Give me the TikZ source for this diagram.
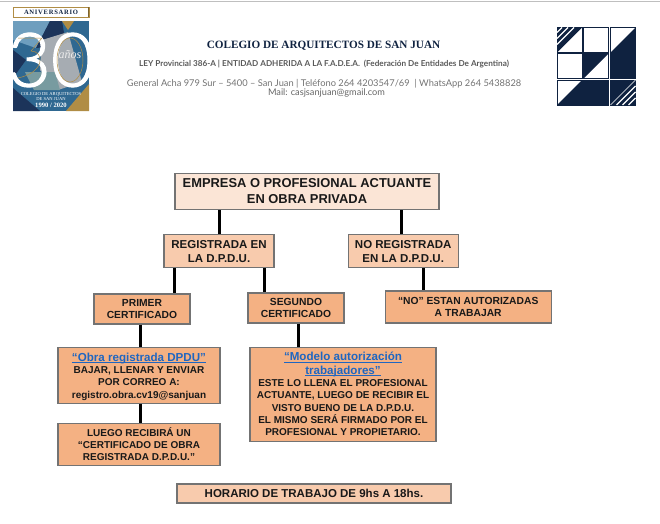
\documentclass[tikz,border=0pt]{standalone}
\usepackage{fontspec}
\setmainfont{Liberation Sans}
\newfontfamily\headserif{Liberation Serif}
\newfontfamily\headsans{Lato}
\newfontfamily\headlight[FakeBold=1.5]{Lato Light}
\usetikzlibrary{positioning}
\definecolor{navy}{HTML}{0F2240}
\definecolor{peachA}{HTML}{FBE5D6}
\definecolor{peachB}{HTML}{F8CBAD}
\definecolor{peachC}{HTML}{F4B183}
\definecolor{linkblue}{HTML}{1F66C1}
\definecolor{gold}{HTML}{B08D45}
\definecolor{logoblue}{HTML}{2F6891}
\definecolor{logosky}{HTML}{6E9EBE}
\definecolor{logodark}{HTML}{1C345A}
\definecolor{logogray}{HTML}{A6ACB2}
\definecolor{logoteal}{HTML}{789BA0}
\newsavebox{\linkbox}
\newcommand{\boxfont}[2]{\fontsize{#1}{#2}\selectfont\bfseries}
\newcommand{\linktext}[1]{{\fontsize{11.6}{13}\selectfont\color{linkblue}\sbox{\linkbox}{#1}\rlap{\rule[-1.6pt]{\wd\linkbox}{.7pt}}\usebox{\linkbox}}}
\begin{document}
\begin{tikzpicture}[
  x=1pt, y=-1pt,
  node distance=24pt and 20pt,
  box/.style={draw=black!55, line width=1.2pt, align=center, inner sep=0pt, text=black!90},
  boxa/.style={box, fill=peachA, minimum width=264pt, minimum height=36pt, font=\boxfont{12.9}{16}},
  boxb/.style={box, fill=peachB, minimum width=110pt, minimum height=33pt, font=\boxfont{11.5}{14.2}},
  boxc/.style={box, fill=peachC, minimum width=96pt, minimum height=30pt, font=\boxfont{10.3}{12.2}},
  boxd/.style={box, fill=peachC, minimum width=162pt, font=\boxfont{10}{12.3}},
  link/.style={black, line width=3pt},
  tile/.style={draw=navy, line width=.6pt, fill=white},
  stripe/.style={draw=white, line width=1.2pt},
  logotext/.style={inner sep=0pt, text=white, align=center}
]
\useasboundingbox (0,0) rectangle (660,523);
\draw[gray!50, line width=1pt] (0,1) -- (660,1);

\draw[gold, line width=.7pt] (13,7) rectangle (89,17);
\draw[gold!70!black, line width=1.4pt] (88.5,7) -- (88.5,17);
\fill[logoblue] (13,21) rectangle (89,111);
\fill[logosky] (13,21) -- (50,21) -- (36,48) -- (13,40) -- cycle;
\fill[logodark] (50,21) -- (62,21) -- (66,45) -- (36,48) -- cycle;
\fill[logogray] (42,40) -- (68,32) -- (82,82) -- (58,90) -- (40,70) -- cycle;
\fill[gold] (62,21) -- (74,21) -- (68,30) -- cycle;
\fill[logodark] (13,50) -- (26,60) -- (13,78) -- cycle;
\fill[logoteal] (25,72) -- (55,72) -- (60,90) -- (34,90) -- cycle;
\fill[gold] (66,111) -- (89,84) -- (89,111) -- cycle;
\fill[logodark] (13,88) -- (40,111) -- (13,111) -- cycle;
\node[logotext, font=\headserif\bfseries\fontsize{6.6}{7}\selectfont, text=navy] (aniv) at (51,12) {A\kern.7pt N\kern.7pt I\kern.7pt V\kern.7pt E\kern.7pt R\kern.7pt S\kern.7pt A\kern.7pt R\kern.7pt I\kern.7pt O};
\node[logotext, font=\headlight\fontsize{75}{75}\selectfont] (treinta) at (51,60) {30};
\draw[gold, line width=.5pt] (70,60) ellipse (13 and 22);
\draw[gold, line width=.5pt] (18,38) -- (42,38) -- (31,51) .. controls (44,51) and (46,72) .. (18,78);
\node[logotext, font=\headserif\itshape\fontsize{12}{13}\selectfont, text=white!85!gray] (anos) at (70,55) {años};
\node[logotext, font=\headserif\fontsize{4.6}{5.4}\selectfont] (colegiologo) at (51,96.5) {COLEGIO DE ARQUITECTOS\\DE SAN JUAN};
\node[logotext, font=\headserif\bfseries\fontsize{6.6}{7}\selectfont] (anioslogo) at (51,105.5) {1990 / 2020};

\node[inner sep=0pt, font=\headserif\bfseries\fontsize{11.2}{14}\selectfont, text=navy] (titulo) at (323.5,46) {COLEGIO DE ARQUITECTOS DE SAN JUAN};
\node[inner sep=0pt, font=\headsans\bfseries\fontsize{8.17}{10}\selectfont, text=black!65] (ley) at (324,64) {LEY Provincial 386-A | ENTIDAD ADHERIDA A LA F.A.D.E.A.\ \ (Federación De Entidades De Argentina)};
\node[inner sep=0pt, font=\headsans\fontsize{9.3}{11}\selectfont, text=black!55] (direccion) at (324,84) {General Acha 979 Sur – 5400 – San Juan | Teléfono 264 4203547/69\ \ | WhatsApp 264 5438828};
\node[inner sep=0pt, font=\headsans\fontsize{9.2}{10}\selectfont, text=black!60] (mail) at (326.5,93) {Mail: casjsanjuan@gmail.com};

\foreach \tx in {557,583.5,610.5}
  \foreach \ty in {27.5,53.5,80}
    \draw[tile] (\tx,\ty) rectangle ++(25,25);
\fill[navy] (557,27.5) -- (582,27.5) -- (557,52.5) -- cycle;
\foreach \st in {5,11,17}
  \draw[stripe] (557+\st,27.5) -- (557,27.5+\st);
\fill[navy] (635.5,27.5) -- (635.5,52.5) -- (610.5,52.5) -- cycle;
\fill[navy] (583.5,53.5) -- (608.5,53.5) -- (583.5,78.5) -- cycle;
\fill[navy] (610.5,53.5) rectangle ++(25,25);
\fill[navy] (582,80) -- (582,105) -- (557,105) -- cycle;
\fill[navy] (583.5,80) rectangle ++(25,25);
\fill[navy] (610.5,80) rectangle ++(25,25);
\foreach \st in {7,13,19}
  \draw[stripe] (635.5-\st,105) -- (635.5,105-\st);
\draw[white, line width=.5pt] (635.5,80) -- (610.5,105);

\node[boxa] (empresa) at (307,191.5) {EMPRESA O PROFESIONAL ACTUANTE\\EN OBRA PRIVADA};
\node[boxb, below=24pt of empresa.south, anchor=north, xshift=-88pt] (reg) {REGISTRADA EN\\LA D.P.D.U.};
\node[boxb, right=73pt of reg] (noreg) {NO REGISTRADA\\EN LA D.P.D.U.};
\node[boxc, below=25pt of reg.south, anchor=north, xshift=-77pt] (primer) {PRIMER\\CERTIFICADO};
\node[boxc, below=24pt of reg.south, anchor=north, xshift=77pt] (segundo) {SEGUNDO\\CERTIFICADO};
\node[boxc, right=40pt of segundo, minimum width=166pt, minimum height=32pt, yshift=1pt] (noaut) {“NO” ESTAN AUTORIZADAS\\A TRABAJAR};
\node[boxd, below=22pt of primer.south, anchor=north, xshift=-3pt, minimum height=56pt] (obra) {\rule{0pt}{11.3pt}\linktext{“Obra registrada DPDU”}\\BAJAR, LLENAR Y ENVIAR\\POR CORREO A:\\registro.obra.cv19@sanjuan};
\node[boxd, below=19pt of obra, minimum height=42pt] (luego) {LUEGO RECIBIRÁ UN\\“CERTIFICADO DE OBRA\\REGISTRADA D.P.D.U.”};
\node[boxd, below=23pt of segundo.south, anchor=north, xshift=47pt, minimum width=186pt, minimum height=94pt] (modelo) {\linktext{“Modelo autorización}\\[1pt]\linktext{trabajadores”}\\ESTE LO LLENA EL PROFESIONAL\\ACTUANTE, LUEGO DE RECIBIR EL\\VISTO BUENO DE LA D.P.D.U.\\EL MISMO SERÁ FIRMADO POR EL\\PROFESIONAL Y PROPIETARIO.};
\node[box, fill=peachB, minimum width=274pt, minimum height=19pt, font=\boxfont{11.5}{14}] (horario) at (314,493.5) {HORARIO DE TRABAJO DE 9hs A 18hs.};

\draw[link] (reg.north) -- (reg.north |- empresa.south);
\draw[link] ([xshift=-1.5pt]noreg.north) -- ([xshift=-1.5pt]noreg.north |- empresa.south);
\draw[link] ([xshift=-45pt]reg.south) -- ([xshift=-45pt]reg.south |- primer.north);
\draw[link] ([xshift=45pt]reg.south) -- ([xshift=45pt]reg.south |- segundo.north);
\draw[link] ([xshift=-2pt]primer.south) -- ([xshift=-2pt]primer.south |- obra.north);
\draw[link] ([xshift=2pt]segundo.south) -- ([xshift=2pt]segundo.south |- modelo.north);
\draw[link] ([xshift=20pt]noreg.south) -- ([xshift=20pt]noreg.south |- noaut.north);
\draw[link] ([xshift=1pt]obra.south) -- ([xshift=1pt]obra.south |- luego.north);
\end{tikzpicture}
\end{document}
